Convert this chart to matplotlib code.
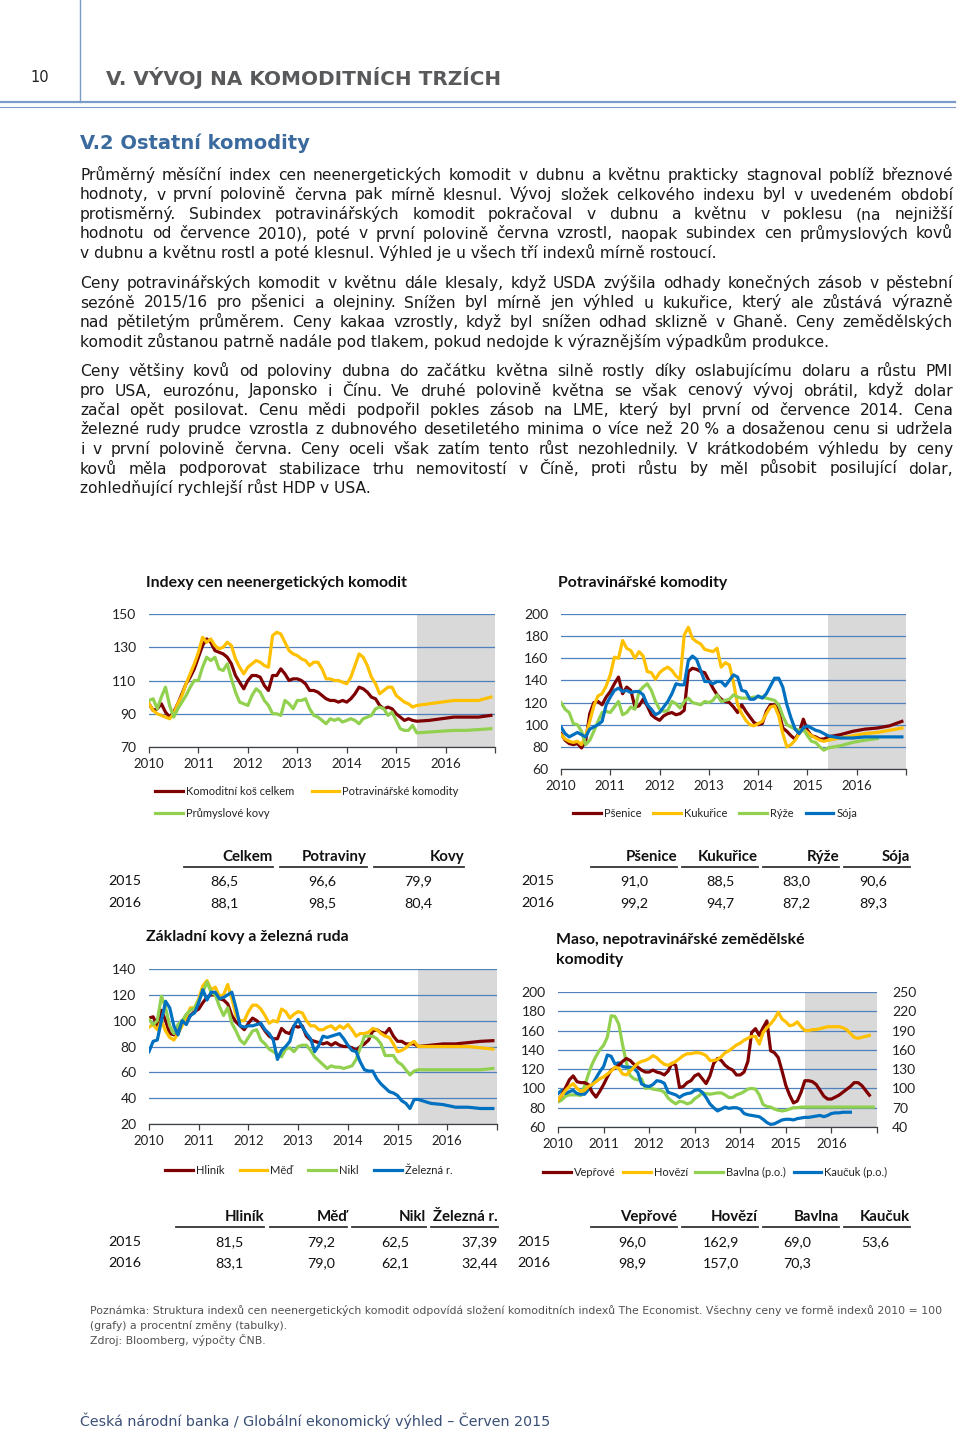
import numpy as np
import matplotlib
matplotlib.use("Agg")
import matplotlib.pyplot as plt
from matplotlib.lines import Line2D

# --------------------------------------------------
# Data (monthly, Jan 2010 = month 0)
# --------------------------------------------------

fc_months = [65, 68, 71, 74, 77, 80, 83]

# Indexy cen neenergetickych komodit
kos = [96, 92, 93, 96, 91, 88, 91, 96, 102, 108, 112, 117,
       124, 131, 135, 133, 128, 127, 126, 124, 120, 113, 109, 105,
       110, 113, 113, 112, 107, 104, 113, 113, 117, 114, 110, 111,
       111, 110, 108, 104, 104, 103, 101, 99, 98, 98, 97, 98,
       97, 99, 102, 106, 105, 103, 100, 99, 95, 93, 94, 93,
       90, 88, 86, 87, 86]
potr = [96, 92, 90, 89, 88, 87, 90, 96, 101, 108, 114, 120,
        127, 136, 133, 135, 131, 129, 130, 133, 131, 123, 118, 114,
        118, 120, 122, 121, 119, 118, 137, 139, 138, 133, 128, 126,
        125, 123, 122, 119, 121, 121, 117, 111, 111, 110, 110, 109,
        108, 112, 119, 126, 124, 119, 112, 108, 102, 104, 106, 106,
        101, 99, 97, 96, 94]
kovy = [98, 99, 93, 100, 106, 95, 88, 93, 97, 101, 106, 110,
        110, 118, 124, 122, 124, 117, 116, 120, 111, 103, 97, 96,
        95, 101, 105, 103, 98, 95, 90, 90, 89, 98, 96, 93,
        98, 98, 99, 93, 89, 88, 86, 84, 87, 86, 87, 85,
        86, 87, 86, 84, 87, 88, 89, 93, 94, 93, 89, 91,
        86, 81, 80, 80, 83]
kos_f = [85.5, 86, 87, 88, 88, 88, 89]
potr_f = [95, 96, 97, 98, 98, 98, 100]
kovy_f = [78.5, 79, 79.5, 80, 80, 80.5, 81]

# Potravinarske komodity
psen = [92, 86, 83, 82, 83, 79, 85, 110, 120, 121, 118, 125,
        130, 137, 143, 128, 134, 131, 116, 117, 123, 117, 109, 106,
        104, 108, 110, 111, 109, 110, 113, 148, 151, 150, 148, 147,
        140, 133, 127, 123, 121, 120, 116, 111, 118, 112, 107, 102,
        100, 101, 112, 118, 118, 113, 97, 94, 90, 87, 93, 105,
        95, 90, 89, 87, 87]
kuk = [91, 87, 85, 84, 85, 82, 90, 103, 117, 126, 128, 135,
       145, 161, 160, 176, 169, 167, 160, 166, 162, 148, 147, 141,
       147, 150, 152, 149, 144, 141, 181, 188, 178, 175, 173, 168,
       167, 166, 169, 152, 156, 154, 138, 118, 110, 104, 100, 99,
       101, 103, 110, 116, 117, 108, 92, 80, 82, 86, 92, 96,
       93, 90, 88, 86, 85]
ryze = [120, 114, 111, 101, 100, 94, 82, 86, 94, 103, 111, 112,
        111, 116, 121, 109, 111, 116, 114, 130, 134, 137, 131, 121,
        114, 112, 113, 121, 119, 115, 121, 124, 120, 119, 118, 121,
        120, 122, 127, 121, 122, 123, 127, 125, 124, 124, 124, 125,
        125, 125, 124, 123, 122, 118, 108, 100, 98, 96, 95, 96,
        90, 85, 84, 80, 77]
soja = [98, 92, 89, 91, 93, 91, 89, 96, 98, 100, 103, 118,
        125, 131, 133, 130, 131, 129, 130, 130, 127, 118, 114, 109,
        111, 116, 121, 128, 137, 136, 136, 158, 162, 159, 149, 139,
        139, 137, 139, 139, 135, 140, 145, 143, 131, 130, 123, 123,
        126, 124, 128, 135, 142, 142, 134, 118, 106, 96, 92, 97,
        99, 97, 95, 94, 92]
psen_f = [89, 91, 94, 96, 97, 99, 103]
kuk_f = [86, 88, 90, 92, 93, 95, 97]
ryze_f = [79, 81, 84, 86, 87.5]
soja_f = [90, 88, 88, 89, 89, 89, 89]

# Zakladni kovy a zelezna ruda
hlinik = [102, 103, 96, 108, 100, 90, 89, 96, 100, 101, 104, 107,
          109, 114, 118, 120, 120, 117, 116, 113, 104, 99, 96, 93,
          98, 102, 100, 97, 92, 88, 86, 86, 94, 91, 90, 96,
          95, 96, 88, 85, 84, 83, 82, 83, 81, 83, 81, 80,
          80, 79, 77, 80, 82, 85, 92, 93, 91, 90, 94, 88,
          84, 84, 82, 82, 82]
med = [95, 97, 93, 100, 92, 87, 85, 90, 96, 103, 110, 110,
       117, 127, 131, 124, 126, 119, 120, 128, 117, 104, 100, 100,
       107, 112, 112, 109, 104, 98, 100, 99, 109, 107, 102, 105,
       107, 106, 100, 96, 96, 93, 93, 95, 96, 93, 96, 94,
       97, 93, 88, 90, 90, 91, 94, 93, 90, 88, 87, 82,
       76, 77, 79, 82, 84]
nikl = [101, 97, 100, 119, 110, 96, 90, 97, 100, 105, 108, 110,
        116, 122, 130, 122, 120, 111, 104, 110, 98, 92, 85, 82,
        87, 92, 93, 85, 82, 78, 76, 74, 72, 78, 79, 76,
        80, 81, 81, 77, 72, 69, 66, 63, 65, 64, 64, 63,
        64, 65, 70, 79, 88, 88, 88, 86, 82, 73, 73, 73,
        68, 66, 62, 58, 61]
zelezo = [76, 84, 85, 100, 115, 110, 96, 89, 100, 97, 104, 106,
          114, 124, 116, 122, 122, 117, 118, 120, 122, 110, 96, 95,
          96, 96, 97, 98, 93, 90, 85, 70, 77, 80, 84, 96,
          101, 95, 90, 86, 76, 81, 88, 87, 88, 89, 90, 86,
          81, 77, 76, 68, 62, 61, 61, 55, 51, 48, 45, 44,
          42, 38, 36, 32, 39]
hlinik_f = [80, 81, 82, 82, 83, 84, 84.5]
med_f = [80, 80, 80, 80, 80, 79, 78]
nikl_f = [62, 62, 62, 62, 62, 62, 63]
zelezo_f = [39, 36, 35, 33, 33, 32, 32]

# Maso, nepotravinarske zemedelske komodity (veprove, hovezi: left axis)
veprove = [88, 93, 101, 109, 113, 107, 106, 106, 104, 96, 91, 97,
           104, 112, 119, 121, 124, 128, 131, 129, 125, 122, 119, 117,
           117, 119, 117, 116, 114, 118, 126, 124, 101, 102, 106, 108,
           113, 115, 110, 105, 113, 126, 131, 129, 124, 121, 119, 114,
           114, 117, 128, 158, 162, 155, 163, 170, 139, 137, 132, 118,
           103, 93, 85, 87, 96, 108, 108, 107, 104, 98, 92, 89,
           89, 91, 93, 96, 99, 102, 106, 106, 103, 98, 93]
hovezi = [88, 93, 98, 102, 105, 100, 97, 98, 102, 104, 107, 110,
          112, 115, 118, 122, 121, 115, 114, 118, 122, 126, 128, 129,
          131, 134, 132, 128, 125, 124, 126, 128, 131, 134, 136, 136,
          137, 137, 136, 134, 129, 129, 130, 133, 137, 139, 142, 145,
          147, 150, 152, 154, 154, 146, 158, 163, 167, 172, 179, 172,
          169, 165, 166, 169, 164, 160, 160, 161, 161, 162, 163, 164,
          164, 164, 164, 163, 161, 157, 153, 152, 153, 154, 155]
# bavlna, kaucuk: right axis (p.o.)
bavlna = [79, 82, 88, 90, 90, 90, 89, 104, 122, 138, 150, 160,
          167, 180, 213, 212, 200, 168, 140, 120, 115, 113, 115, 100,
          101, 99, 98, 97, 94, 85, 80, 76, 80, 79, 76, 78,
          84, 88, 93, 92, 91, 92, 93, 93, 90, 86, 86, 90,
          92, 95, 99, 100, 99, 90, 75, 72, 71, 68, 66, 65,
          66, 68, 70, 70, 71]
bavlna_f_months = [65, 71, 77, 83]
bavlna_f = [71, 71, 71, 71]
kaucuk = [92, 97, 92, 95, 97, 92, 91, 91, 98, 106, 116, 126,
          134, 152, 150, 138, 140, 134, 133, 133, 131, 125, 107, 104,
          103, 106, 112, 111, 108, 94, 92, 90, 86, 90, 92, 93,
          97, 98, 94, 86, 76, 70, 65, 68, 71, 69, 70, 70,
          68, 61, 59, 58, 57, 56, 52, 47, 44, 45, 48, 51,
          52, 52, 51, 53, 54, 55, 55, 56, 57, 58, 56, 58,
          61, 62, 62, 63, 63, 63]

years = [2010, 2011, 2012, 2013, 2014, 2015, 2016]

# tables
tab1_cols = ["Celkem", "Potraviny", "Kovy"]
tab1_2015 = ["86,5", "96,6", "79,9"]
tab1_2016 = ["88,1", "98,5", "80,4"]
tab2_cols = ["Pšenice", "Kukuřice", "Rýže", "Sója"]
tab2_2015 = ["91,0", "88,5", "83,0", "90,6"]
tab2_2016 = ["99,2", "94,7", "87,2", "89,3"]
tab3_cols = ["Hliník", "Měď", "Nikl", "Železná r."]
tab3_2015 = ["81,5", "79,2", "62,5", "37,39"]
tab3_2016 = ["83,1", "79,0", "62,1", "32,44"]
tab4_cols = ["Vepřové", "Hovězí", "Bavlna", "Kaučuk"]
tab4_2015 = ["96,0", "162,9", "69,0", "53,6"]
tab4_2016 = ["98,9", "157,0", "70,3", ""]

# --------------------------------------------------
# Page setup
# --------------------------------------------------

W, H = 960, 1433
fig = plt.figure(figsize=(W / 100, H / 100), dpi=100)
plt.rcParams["font.family"] = ["DejaVu Sans"]

CF = ["Lato", "DejaVu Sans"]          # chart / table font
RED, YEL, GRN, BLU = "#7f0000", "#ffc000", "#92d050", "#0070c0"
GRID = "#4f81bd"
SHADE = "#d9d9d9"


def fx(x):
    return x / W


def fy(y):
    return 1 - y / H


def hline(x0, x1, y, **kw):
    fig.add_artist(Line2D([fx(x0), fx(x1)], [fy(y), fy(y)],
                          transform=fig.transFigure, **kw))


def month_x(months):
    return 2010 + np.asarray(months) / 12.0


# --------------------------------------------------
# Header
# --------------------------------------------------

fig.add_artist(Line2D([fx(80), fx(80)], [fy(0), fy(102)],
                      transform=fig.transFigure, color="#7a9cc8", lw=1))
hline(0, 955, 102, color="#7a9cc8", lw=1.6)
hline(0, 955, 106.5, color="#7a9cc8", lw=0.8)
fig.text(fx(30), fy(78), "10", fontsize=10.5, color="#222222", va="center")
fig.text(fx(106), fy(78), "V. VÝVOJ NA KOMODITNÍCH TRZÍCH", fontsize=14.4,
         fontweight="bold", color="#58595b", va="center")
fig.text(fx(80), fy(143), "V.2 Ostatní komodity", fontsize=14,
         fontweight="bold", color="#3a6a9e", va="center")

# --------------------------------------------------
# Body text (justified, common baseline per line)
# --------------------------------------------------

paragraphs = [
    (175, [
        "Průměrný měsíční index cen neenergetických komodit v dubnu a květnu prakticky stagnoval poblíž březnové",
        "hodnoty, v první polovině června pak mírně klesnul. Vývoj složek celkového indexu byl v uvedeném období",
        "protisměrný. Subindex potravinářských komodit pokračoval v dubnu a květnu v poklesu (na nejnižší",
        "hodnotu od července 2010), poté v první polovině června vzrostl, naopak subindex cen průmyslových kovů",
        "v dubnu a květnu rostl a poté klesnul. Výhled je u všech tří indexů mírně rostoucí.",
    ]),
    (283, [
        "Ceny potravinářských komodit v květnu dále klesaly, když USDA zvýšila odhady konečných zásob v pěstební",
        "sezóně 2015/16 pro pšenici a olejniny. Snížen byl mírně jen výhled u kukuřice, který ale zůstává výrazně",
        "nad pětiletým průměrem. Ceny kakaa vzrostly, když byl snížen odhad sklizně v Ghaně. Ceny zemědělských",
        "komodit zůstanou patrně nadále pod tlakem, pokud nedojde k výraznějším výpadkům produkce.",
    ]),
    (371, [
        "Ceny většiny kovů od poloviny dubna do začátku května silně rostly díky oslabujícímu dolaru a růstu PMI",
        "pro USA, eurozónu, Japonsko i Čínu. Ve druhé polovině května se však cenový vývoj obrátil, když dolar",
        "začal opět posilovat. Cenu mědi podpořil pokles zásob na LME, který byl první od července 2014. Cena",
        "železné rudy prudce vzrostla z dubnového desetiletého minima o více než 20\u00a0% a dosaženou cenu si udržela",
        "i v první polovině června. Ceny oceli však zatím tento růst nezohlednily. V krátkodobém výhledu by ceny",
        "kovů měla podporovat stabilizace trhu nemovitostí v Číně, proti růstu by měl působit posilující dolar,",
        "zohledňující rychlejší růst HDP v USA.",
    ]),
]

renderer = fig.canvas.get_renderer()
body_kw = dict(fontsize=11.2, color="#1a1a1a", va="baseline")
for y0, lines in paragraphs:
    for i, line in enumerate(lines):
        y = y0 + i * 19.5 + 5      # baseline
        if i == len(lines) - 1:
            fig.text(fx(80), fy(y), line, **body_kw)
            continue
        words = line.split(" ")
        texts = [fig.text(0, fy(y), w, **body_kw) for w in words]
        widths = [t.get_window_extent(renderer).width for t in texts]
        gap = (953 - 80 - sum(widths)) / (len(words) - 1)
        x = 80
        for t, wd in zip(texts, widths):
            t.set_x(fx(x))
            x += wd + gap

# --------------------------------------------------
# Charts
# --------------------------------------------------


def make_axes(x0, y0, x1, y1, ylim, yticks, title, title_xy):
    ax = fig.add_axes([fx(x0), fy(y1), (x1 - x0) / W, (y1 - y0) / H])
    ax.set_xlim(2010, 2017)
    ax.set_ylim(*ylim)
    ax.axvspan(2015 + 5 / 12, 2017, color=SHADE, zorder=0, lw=0)
    ax.set_axisbelow(True)
    ax.yaxis.grid(True, color=GRID, lw=0.9)
    ax.set_yticks(yticks)
    ax.set_xticks(range(2010, 2018))
    ax.set_xticklabels([str(y) for y in years] + [""])
    for s in ("top", "left", "right"):
        ax.spines[s].set_visible(False)
    ax.spines["bottom"].set_color("#404040")
    ax.spines["bottom"].set_linewidth(0.9)
    ax.spines["bottom"].set_zorder(3)
    ax.tick_params(axis="y", length=0, pad=9, labelsize=10, labelcolor="#222222")
    ax.tick_params(axis="x", length=4, width=0.9, color="#404040", pad=4,
                   labelsize=9.5, labelcolor="#222222")
    for lab in ax.get_xticklabels() + ax.get_yticklabels():
        lab.set_family(CF)
    fig.text(fx(title_xy[0]), fy(title_xy[1]), title, fontsize=11.4,
             fontweight="bold", family=CF, color="#111111", va="center",
             linespacing=1.55)
    return ax


def series(ax, hist, fc, color, label, fc_m=fc_months):
    xs = np.concatenate([month_x(range(len(hist))), month_x(fc_m)])
    ys = list(hist) + list(fc)
    return ax.plot(xs, ys, color=color, lw=2.3, label=label,
                   solid_joinstyle="round")[0]


def legend(ax, handles, ncol, anchor, colsp):
    leg = ax.legend(handles=handles, ncol=ncol, loc="upper left",
                    bbox_to_anchor=(fx(anchor[0]), fy(anchor[1])),
                    bbox_transform=fig.transFigure, frameon=False,
                    borderpad=0, borderaxespad=0, handlelength=2.5,
                    handletextpad=0.25, columnspacing=colsp,
                    labelspacing=1.0, prop={"family": CF, "size": 8})
    for t in leg.get_texts():
        t.set_color("#222222")
    return leg


# chart 1
ax1 = make_axes(149, 614, 495, 747, (70, 150), range(70, 151, 20),
                "Indexy cen neenergetických komodit", (146, 583))
h_kos = series(ax1, kos, kos_f, RED, "Komoditní koš celkem")
h_potr = series(ax1, potr, potr_f, YEL, "Potravinářské komodity")
h_kovy = series(ax1, kovy, kovy_f, GRN, "Průmyslové kovy")
legend(ax1, [h_kos, h_kovy, h_potr], 2, (155, 786), 1.6)

# chart 2
ax2 = make_axes(561, 614, 906, 769, (60, 200), range(60, 201, 20),
                "Potravinářské komodity", (558, 583))
h1 = series(ax2, psen, psen_f, RED, "Pšenice")
h2 = series(ax2, kuk, kuk_f, YEL, "Kukuřice")
h3 = series(ax2, ryze, ryze_f, GRN, "Rýže", fc_m=fc_months[:5])
h4 = series(ax2, soja, soja_f, BLU, "Sója")
legend(ax2, [h1, h2, h3, h4], 4, (573, 808), 1.1)

# chart 3
ax3 = make_axes(149, 969, 497, 1124, (20, 140), range(20, 141, 20),
                "Základní kovy a železná ruda", (146, 937))
h1 = series(ax3, hlinik, hlinik_f, RED, "Hliník")
h2 = series(ax3, med, med_f, YEL, "Měď")
h3 = series(ax3, nikl, nikl_f, GRN, "Nikl")
h4 = series(ax3, zelezo, zelezo_f, BLU, "Železná r.")
legend(ax3, [h1, h2, h3, h4], 4, (165, 1165), 1.4)

# chart 4: left axis for meat, right axis (p.o.) for cotton and rubber
ax4 = make_axes(558, 992, 877, 1127, (60, 200), range(60, 201, 20),
                "Maso, nepotravinářské zemědělské\nkomodity", (556, 950))
ax4r = ax4.twinx()
ax4r.set_ylim(40, 250)
ax4r.set_yticks(range(40, 251, 30))
for s in ("top", "left", "right", "bottom"):
    ax4r.spines[s].set_visible(False)
ax4r.tick_params(axis="y", length=0, pad=11, labelsize=10, labelcolor="#222222")
for lab in ax4r.get_yticklabels():
    lab.set_family(CF)
h3 = series(ax4r, bavlna, bavlna_f, GRN, "Bavlna (p.o.)", fc_m=bavlna_f_months)
h4 = ax4r.plot(month_x(range(len(kaucuk))), kaucuk, color=BLU, lw=2.3,
               label="Kaučuk (p.o.)")[0]
# meat series belong to the left scale; draw them through the left axis
# data transform so they sit on top of the right-axis lines
h1 = ax4r.plot(month_x(range(len(veprove))), veprove, color=RED, lw=2.3,
               label="Vepřové", transform=ax4.transData)[0]
h2 = ax4r.plot(month_x(range(len(hovezi))), hovezi, color=YEL, lw=2.3,
               label="Hovězí", transform=ax4.transData)[0]
legend(ax4, [h1, h2, h3, h4], 4, (543, 1167), 0.7)

# --------------------------------------------------
# Tables
# --------------------------------------------------


def table(cols, r15, r16, ul, centers, year_x, y_head, y_ul, y_rows, right_last=False):
    for c, (a, b) in zip(cols, ul):
        fig.text(fx(b), fy(y_head), c, ha="right", va="center", family=CF,
                 fontsize=10.8, fontweight="bold", color="#111111")
        hline(a, b, y_ul, color="#333333", lw=1.3)
    for yr, row, y in (("2015", r15, y_rows[0]), ("2016", r16, y_rows[1])):
        fig.text(fx(year_x), fy(y), yr, va="center", family=CF, fontsize=10.3,
                 color="#111111")
        for i, (v, cx) in enumerate(zip(row, centers)):
            if right_last and i == len(row) - 1:
                fig.text(fx(ul[-1][1]), fy(y), v, ha="right", va="center",
                         family=CF, fontsize=10.3, color="#111111")
            else:
                fig.text(fx(cx), fy(y), v, ha="center", va="center",
                         family=CF, fontsize=10.3, color="#111111")


table(tab1_cols, tab1_2015, tab1_2016, [(184, 273), (280, 367), (374, 464)],
      [224, 322, 418], 108, 857, 867, (881, 903))
table(tab2_cols, tab2_2015, tab2_2016,
      [(591, 677), (682, 758), (763, 839), (844, 910)],
      [634, 720, 796, 873], 521, 857, 867, (881, 903))
table(tab3_cols, tab3_2015, tab3_2016,
      [(176, 264), (270, 347), (352, 426), (431, 498)],
      [229, 321, 395, 481], 108, 1217, 1227, (1242, 1263), right_last=True)
table(tab4_cols, tab4_2015, tab4_2016,
      [(591, 677), (682, 758), (763, 839), (844, 910)],
      [632, 721, 797, 875], 517, 1217, 1227, (1242, 1263))

# --------------------------------------------------
# Notes / footer
# --------------------------------------------------

note_kw = dict(fontsize=7.85, color="#505050", va="center")
fig.text(fx(90), fy(1311), "Poznámka: Struktura indexů cen neenergetických komodit odpovídá "
         "složení komoditních indexů The Economist. Všechny ceny ve formě indexů 2010 = 100",
         **note_kw)
fig.text(fx(90), fy(1326), "(grafy) a procentní změny (tabulky).", **note_kw)
fig.text(fx(90), fy(1340), "Zdroj: Bloomberg, výpočty ČNB.", **note_kw)
fig.text(fx(80), fy(1421), "Česká národní banka / Globální ekonomický výhled – Červen 2015",
         fontsize=10.3, color="#3b4f75", va="center")

fig.savefig("out.png", dpi=100)
